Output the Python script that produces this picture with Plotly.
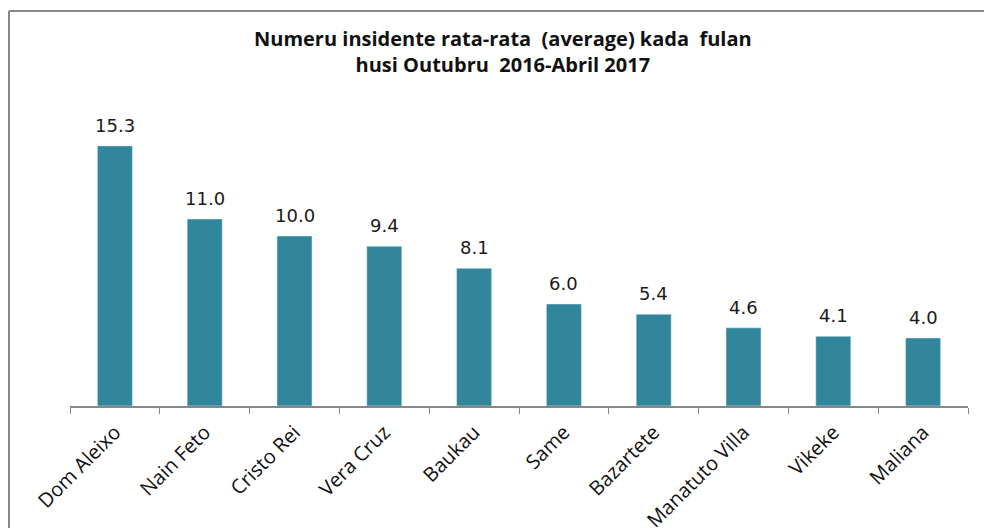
import plotly.graph_objects as go

categories = ["Dom Aleixo", "Nain Feto", "Cristo Rei", "Vera Cruz", "Baukau",
              "Same", "Bazartete", "Manatuto Villa", "Vikeke", "Maliana"]
values = [15.3, 11.0, 10.0, 9.4, 8.1, 6.0, 5.4, 4.6, 4.1, 4.0]
labels = [f"{v:.1f}" for v in values]

W, H = 984, 528
ml, mr, mt, mb = 70, 16, 100, 122
pw, ph = W - ml - mr, H - mt - mb

fig = go.Figure()
fig.add_trace(go.Bar(x=categories, y=values, marker_color="#31869C",
                     width=0.39, hoverinfo="x+y"))

for c, v, t in zip(categories, values, labels):
    fig.add_annotation(x=c, y=v, text=t, showarrow=False, yanchor="bottom",
                       yshift=8, font=dict(family="DejaVu Sans", size=18, color="#1a1a1a"))

fig.add_annotation(xref="paper", yref="paper", x=0.482, y=(H - mb - 52) / ph,
                   text="<b>Numeru insidente rata-rata  (average) kada  fulan<br>husi Outubru  2016-Abril 2017</b>",
                   showarrow=False, xanchor="center", yanchor="middle",
                   font=dict(family="Open Sans", size=20, color="#111"))

bx0 = (9 - ml) / pw
by1 = (H - mb - 11) / ph
fig.add_shape(type="line", xref="paper", yref="paper",
              x0=bx0, x1=(W - ml) / pw, y0=by1, y1=by1,
              line=dict(color="#878787", width=2))
fig.add_shape(type="line", xref="paper", yref="paper",
              x0=bx0, x1=bx0, y0=-mb / ph, y1=by1,
              line=dict(color="#878787", width=2))

fig.update_layout(
    width=W, height=H, margin=dict(l=ml, r=mr, t=mt, b=mb, autoexpand=False),
    paper_bgcolor="white", plot_bgcolor="white", showlegend=False,
    xaxis=dict(tickangle=-45, ticks="outside", tickson="boundaries", ticklen=6,
               tickcolor="#878787", showline=True, linecolor="#878787", linewidth=1.5,
               automargin=False, ticklabelstandoff=5,
               tickfont=dict(family="Open Sans", size=20, color="#111"), showgrid=False),
    yaxis=dict(range=[0, ph / 17], visible=False, showgrid=False, automargin=False),
)

fig.write_html("out.html", config={"displayModeBar": False},
               post_script="document.body.style.margin='0';document.body.style.overflow='hidden';"
                           "document.documentElement.style.overflow='hidden';")
